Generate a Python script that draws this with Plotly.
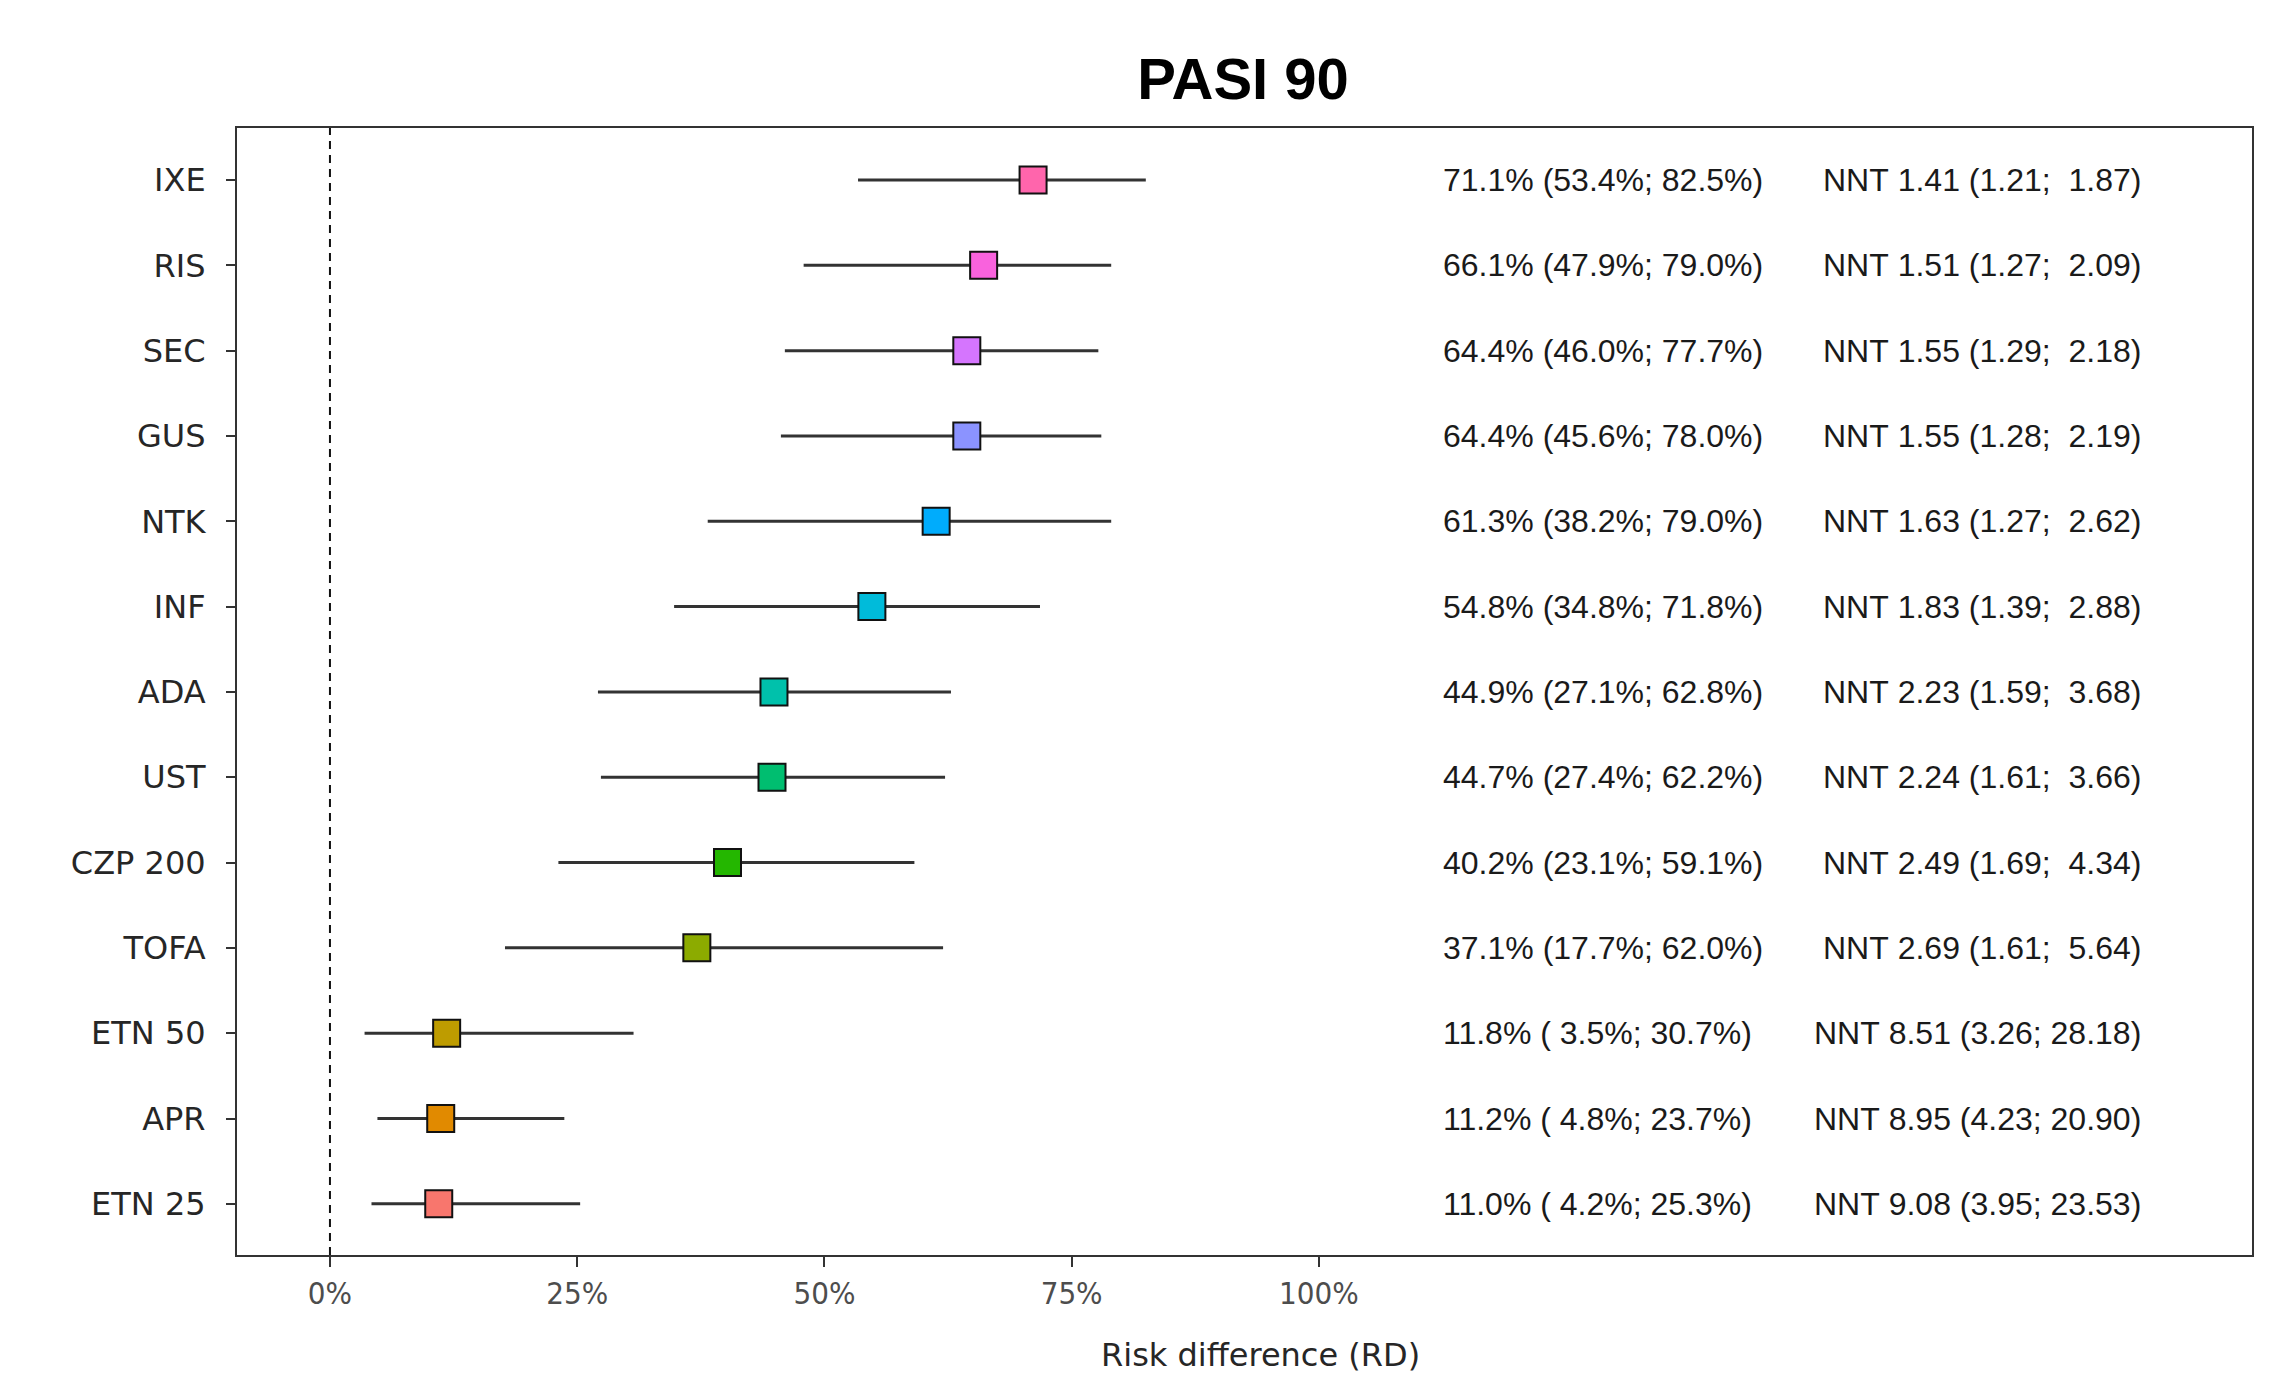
import plotly.graph_objects as go

# ---- data ----
treatments = ["IXE", "RIS", "SEC", "GUS", "NTK", "INF", "ADA", "UST",
              "CZP 200", "TOFA", "ETN 50", "APR", "ETN 25"]
rd = [71.1, 66.1, 64.4, 64.4, 61.3, 54.8, 44.9, 44.7, 40.2, 37.1, 11.8, 11.2, 11.0]
rd_lo = [53.4, 47.9, 46.0, 45.6, 38.2, 34.8, 27.1, 27.4, 23.1, 17.7, 3.5, 4.8, 4.2]
rd_hi = [82.5, 79.0, 77.7, 78.0, 79.0, 71.8, 62.8, 62.2, 59.1, 62.0, 30.7, 23.7, 25.3]
nnt = [1.41, 1.51, 1.55, 1.55, 1.63, 1.83, 2.23, 2.24, 2.49, 2.69, 8.51, 8.95, 9.08]
nnt_lo = [1.21, 1.27, 1.29, 1.28, 1.27, 1.39, 1.59, 1.61, 1.69, 1.61, 3.26, 4.23, 3.95]
nnt_hi = [1.87, 2.09, 2.18, 2.19, 2.62, 2.88, 3.68, 3.66, 4.34, 5.64, 28.18, 20.90, 23.53]
colors = ["#FF65AC", "#F962DD", "#D575FE", "#8B93FF", "#00ACFC", "#00BBDA", "#00C1AB",
          "#00BE70", "#24B700", "#8CAB00", "#BE9C00", "#E18A00", "#F8766D"]
x_tick_vals = [0, 25, 50, 75, 100]
x_tick_text = ["0%", "25%", "50%", "75%", "100%"]

rows = list(range(1, len(treatments) + 1))

# page has an 8px body margin, so the figure is 8px smaller than the window
W, H = 2267, 1367

fig = go.Figure()
fig.add_trace(go.Scatter(
    x=rd, y=rows, mode="markers",
    marker=dict(symbol="square", size=27, color=colors,
                line=dict(color="#111111", width=2)),
    error_x=dict(type="data", symmetric=False,
                 array=[h - r for h, r in zip(rd_hi, rd)],
                 arrayminus=[r - l for r, l in zip(rd, rd_lo)],
                 width=0, thickness=3, color="#333333"),
    showlegend=False, hoverinfo="skip",
))

annotations = []
for i, y in enumerate(rows):
    t1 = f"{rd[i]:.1f}% ({rd_lo[i]:4.1f}%; {rd_hi[i]:.1f}%)".replace(" ", "\u00a0")
    t2 = f"NNT {nnt[i]:.2f} ({nnt_lo[i]:.2f}; {nnt_hi[i]:5.2f})".replace(" ", "\u00a0")
    annotations.append(dict(x=112.4, y=y, xref="x", yref="y", text=t1, showarrow=False,
                            xanchor="left", yanchor="middle",
                            font=dict(family="Liberation Sans, Arial", size=32, color="#1a1a1a")))
    annotations.append(dict(x=183.3, y=y, xref="x", yref="y", text=t2, showarrow=False,
                            xanchor="right", yanchor="middle",
                            font=dict(family="Liberation Sans, Arial", size=32, color="#1a1a1a")))

annotations.append(dict(x=0.5077, y=-0.0887, xref="paper", yref="paper",
                        text="Risk difference (RD)", showarrow=False,
                        xanchor="center", yanchor="middle",
                        font=dict(family="DejaVu Sans, Verdana", size=32, color="#262626")))

fig.add_shape(type="line", x0=0, x1=0, y0=0, y1=1, xref="x", yref="paper",
              line=dict(color="#111111", width=2, dash="8px,6px"))

fig.update_layout(
    width=W, height=H,
    margin=dict(l=229, r=23, t=120, b=120),
    paper_bgcolor="white", plot_bgcolor="white",
    title=dict(text="<b>PASI 90</b>", x=1235 / W, y=1 - 71 / H,
               xref="container", yref="container",
               xanchor="center", yanchor="middle",
               font=dict(family="Liberation Sans, Arial", size=58, color="#000000")),
    annotations=annotations,
    xaxis=dict(range=[-9.40, 194.36], tickvals=x_tick_vals, ticktext=x_tick_text,
               ticks="outside", ticklen=10, tickwidth=2, tickcolor="#333333",
               showline=True, mirror=True, linewidth=2, linecolor="#333333",
               showgrid=False, zeroline=False,
               tickfont=dict(family="DejaVu Sans Condensed, DejaVu Sans", size=31, color="#4d4d4d")),
    yaxis=dict(range=[13.6, 0.39], tickvals=rows, ticktext=treatments,
               ticks="outside", ticklen=9, tickwidth=2, tickcolor="#333333",
               showline=True, mirror=True, linewidth=2, linecolor="#333333",
               showgrid=False, zeroline=False, ticklabelstandoff=14,
               tickfont=dict(family="DejaVu Sans, Verdana", size=32, color="#262626")),
)

fig.write_html("out.html")
